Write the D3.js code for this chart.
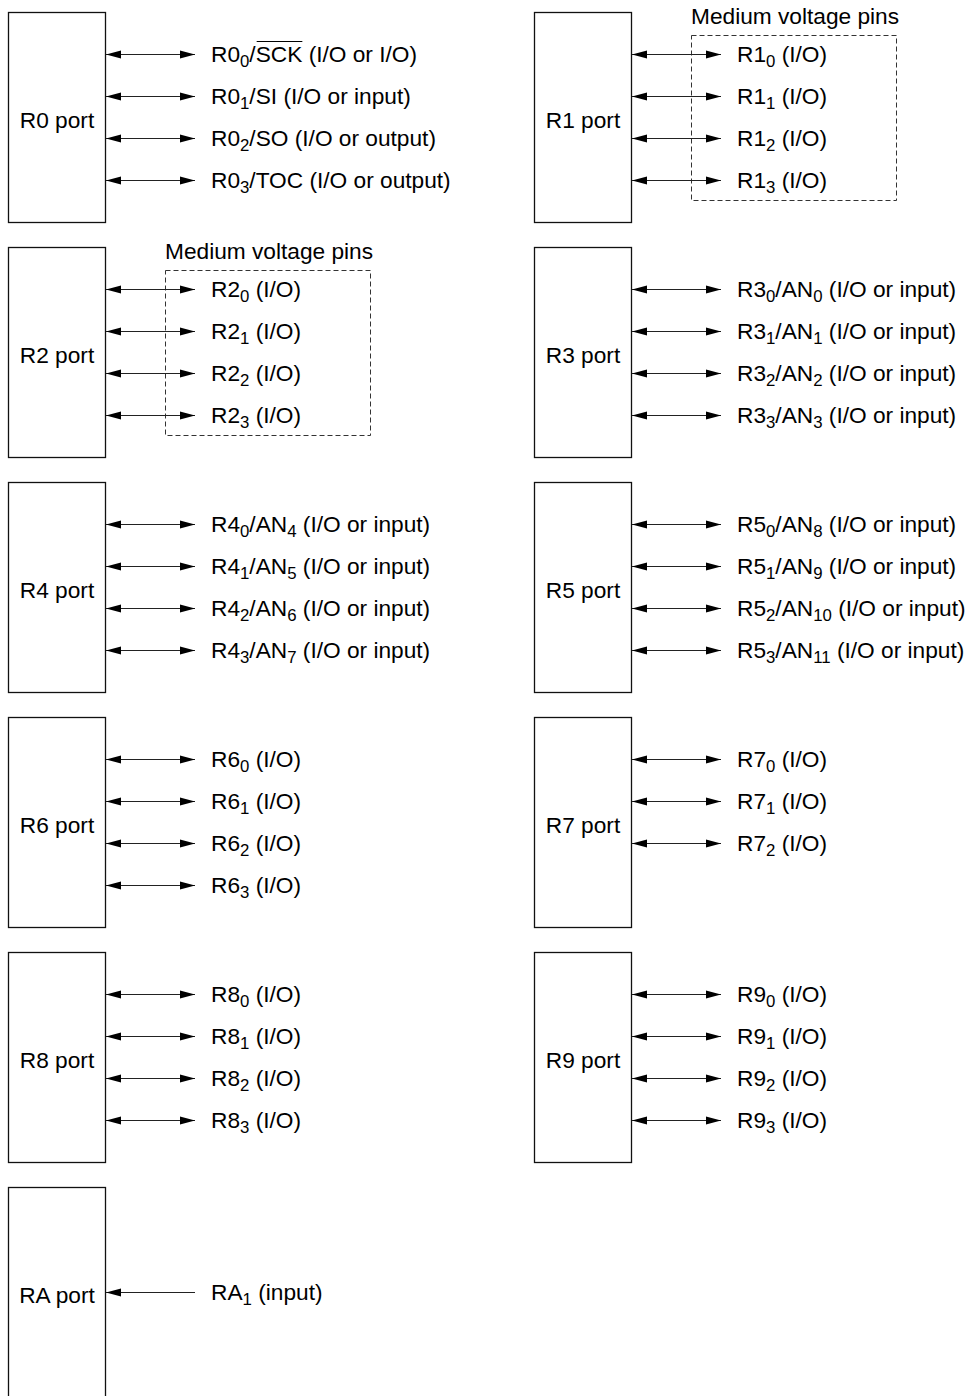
<!DOCTYPE html>
<html>
<head>
<meta charset="utf-8">
<script src="https://cdn.jsdelivr.net/npm/d3@7"></script>
<style>
  html, body { margin: 0; padding: 0; background: #fff; }
  svg { display: block; }
  text { font-family: "Liberation Sans", Arial, Helvetica, sans-serif; fill: #000; }
</style>
</head>
<body>
<svg id="chart" width="967" height="1396"></svg>
<script>
// ---------- data ----------
const portNames   = ["R0 port","R1 port","R2 port","R3 port","R4 port","R5 port","R6 port","R7 port","R8 port","R9 port","RA port"];
const portColumn  = [0,1,0,1,0,1,0,1,0,1,0];
const portRow     = [0,0,1,1,2,2,3,3,4,4,5];
// markup: _{x} = subscript, ^{x} = overline
const pinLabels = [
  ["R0_{0}/^{SCK} (I/O or I/O)", "R0_{1}/SI (I/O or input)", "R0_{2}/SO (I/O or output)", "R0_{3}/TOC (I/O or output)"],
  ["R1_{0} (I/O)", "R1_{1} (I/O)", "R1_{2} (I/O)", "R1_{3} (I/O)"],
  ["R2_{0} (I/O)", "R2_{1} (I/O)", "R2_{2} (I/O)", "R2_{3} (I/O)"],
  ["R3_{0}/AN_{0} (I/O or input)", "R3_{1}/AN_{1} (I/O or input)", "R3_{2}/AN_{2} (I/O or input)", "R3_{3}/AN_{3} (I/O or input)"],
  ["R4_{0}/AN_{4} (I/O or input)", "R4_{1}/AN_{5} (I/O or input)", "R4_{2}/AN_{6} (I/O or input)", "R4_{3}/AN_{7} (I/O or input)"],
  ["R5_{0}/AN_{8} (I/O or input)", "R5_{1}/AN_{9} (I/O or input)", "R5_{2}/AN_{10} (I/O or input)", "R5_{3}/AN_{11} (I/O or input)"],
  ["R6_{0} (I/O)", "R6_{1} (I/O)", "R6_{2} (I/O)", "R6_{3} (I/O)"],
  ["R7_{0} (I/O)", "R7_{1} (I/O)", "R7_{2} (I/O)"],
  ["R8_{0} (I/O)", "R8_{1} (I/O)", "R8_{2} (I/O)", "R8_{3} (I/O)"],
  ["R9_{0} (I/O)", "R9_{1} (I/O)", "R9_{2} (I/O)", "R9_{3} (I/O)"],
  ["RA_{1} (input)"]
];
// slot of each port's first pin (1.5 = centred on the port)
const pinStartSlot = [0,0,0,0,0,0,0,0,0,0,1.5];
const pinDirection = ["bi","bi","bi","bi","bi","bi","bi","bi","bi","bi","in"];
const groupedPorts = ["R1 port","R2 port"];
const groupTitle = "Medium voltage pins";

// ---------- layout ----------
const svg = d3.select("#chart");
const colX = d3.scaleLinear().domain([0, 1]).range([8, 534]);
const rowY = d3.scaleLinear().domain([0, 1]).range([12, 247]);
const pinY = d3.scaleLinear().domain([0, 1]).range([42, 84]);
const boxW = 97, boxH = 210;
const arrowX1 = 98, arrowX2 = 187, textX = 203;
const headL = 15, headH = 4;
const FS = 22.7, SUB = 16.8, SUBDY = 5;

const ports = portNames.map((name, i) => ({
  name, col: portColumn[i], row: portRow[i], pins: pinLabels[i], dir: pinDirection[i], start: pinStartSlot[i]
}));

const g = svg.selectAll("g.port").data(ports).join("g")
  .attr("class", "port")
  .attr("transform", d => `translate(${colX(d.col)},${rowY(d.row)})`);

// dashed group boxes
g.filter(d => groupedPorts.includes(d.name)).each(function() {
  const s = d3.select(this);
  s.append("rect")
    .attr("x", 157.5).attr("y", 23.5).attr("width", 205).attr("height", 165)
    .attr("fill", "none").attr("stroke", "#333").attr("stroke-width", 1)
    .attr("stroke-dasharray", "5,3");
  s.append("text").attr("x", 157).attr("y", 12)
    .attr("font-size", FS).text(groupTitle);
});

// port boxes
g.append("rect")
  .attr("x", 0.5).attr("y", 0.5).attr("width", boxW).attr("height", boxH)
  .attr("fill", "none").attr("stroke", "#111").attr("stroke-width", 1.3);

g.append("text")
  .attr("x", boxW / 2 + 0.5).attr("y", 116)
  .attr("text-anchor", "middle").attr("font-size", FS)
  .text(d => d.name);

// pins
const pins = g.selectAll("g.pin")
  .data(d => d.pins.map((label, j) => ({ label, j: j + d.start, dir: d.dir })))
  .join("g").attr("class", "pin")
  .attr("transform", d => `translate(0,${pinY(d.j)})`);

pins.append("line")
  .attr("x1", arrowX1).attr("x2", arrowX2).attr("y1", 0.5).attr("y2", 0.5)
  .attr("stroke", "#222").attr("stroke-width", 1);

// left head (into box)
pins.append("path")
  .attr("d", `M${arrowX1},0.5 L${arrowX1 + headL},${0.5 - headH} L${arrowX1 + headL},${0.5 + headH} Z`)
  .attr("fill", "#000");
// right head (outward) for bidirectional
pins.filter(d => d.dir === "bi").append("path")
  .attr("d", `M${arrowX2},0.5 L${arrowX2 - headL},${0.5 - headH} L${arrowX2 - headL},${0.5 + headH} Z`)
  .attr("fill", "#000");

function parseLabel(str) {
  const parts = [];
  const re = /(_\{[^}]*\}|\^\{[^}]*\})/g;
  let last = 0, m;
  while ((m = re.exec(str)) !== null) {
    if (m.index > last) parts.push({ t: str.slice(last, m.index), k: "n" });
    const inner = m[0].slice(2, -1);
    parts.push({ t: inner, k: m[0][0] === "_" ? "sub" : "over" });
    last = m.index + m[0].length;
  }
  if (last < str.length) parts.push({ t: str.slice(last), k: "n" });
  return parts;
}

pins.each(function(d) {
  const s = d3.select(this);
  const text = s.append("text").attr("x", textX).attr("y", 8).attr("font-size", FS);
  const parts = parseLabel(d.label);
  let shifted = false;
  let charIndex = 0;
  const overlines = [];
  parts.forEach(p => {
    const ts = text.append("tspan").text(p.t);
    if (p.k === "sub") {
      ts.attr("font-size", SUB).attr("dy", SUBDY);
      shifted = true;
    } else {
      if (shifted) { ts.attr("dy", -SUBDY); shifted = false; }
      if (p.k === "over") overlines.push({ start: charIndex, len: p.t.length });
    }
    charIndex += p.t.length;
  });
  const node = text.node();
  overlines.forEach(o => {
    const x0 = node.getStartPositionOfChar(o.start).x;
    const x1 = node.getEndPositionOfChar(o.start + o.len - 1).x;
    s.append("line").attr("x1", x0 + 1).attr("x2", x1)
      .attr("y1", 8 - 20.5).attr("y2", 8 - 20.5)
      .attr("stroke", "#000").attr("stroke-width", 1.2);
  });
});
</script>
</body>
</html>
